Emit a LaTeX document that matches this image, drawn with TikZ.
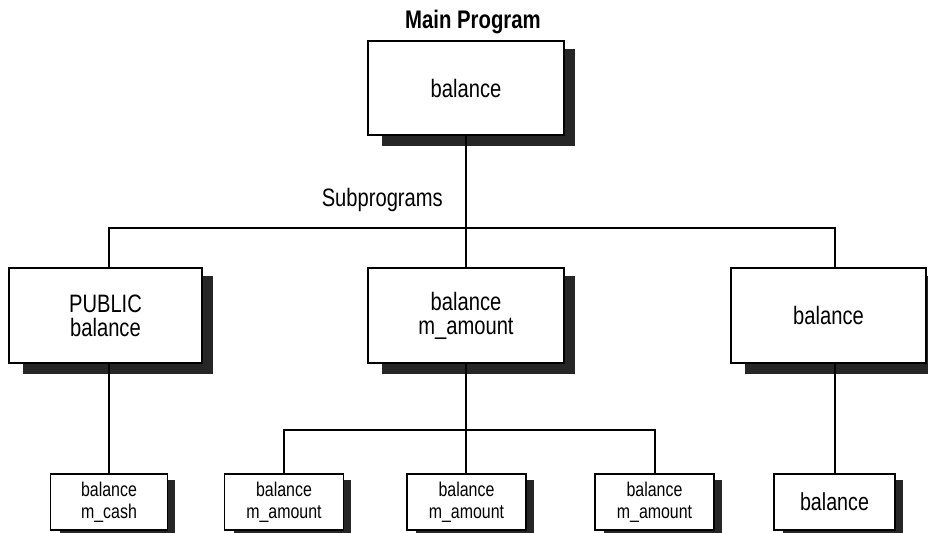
\documentclass[tikz,border=0pt]{standalone}
\usepackage{fontspec}
\setmainfont{Liberation Sans}[FakeStretch=0.8]
\usetikzlibrary{calc,backgrounds}
\begin{document}
\begin{tikzpicture}[x=0.03cm,y=-0.03cm,
  box/.style={draw=black,line width=1pt,fill=white,inner sep=0pt,align=center,
    font=\fontsize{21.5}{20.5}\selectfont},
  sbox/.style={box,font=\fontsize{17}{18.8}\selectfont},
  lbl/.style={inner sep=0pt,font=\fontsize{21.5}{20}\selectfont},
  link/.style={line width=1pt},
  shadowfill/.style={fill=black!85}]
\useasboundingbox (0,0) rectangle (928,532);
\clip (0,0) rectangle (928,532);
% titles
\node[lbl,font=\bfseries\fontsize{21.7}{20}\selectfont,anchor=base] (title) at (473,28) {Main Program};
\node[lbl,anchor=base east] (sub) at (443,206) {Subprograms};
% main box
\node[box,minimum width={196*0.03cm},minimum height={94*0.03cm}] (top) at (466,88) {balance};
% subprogram boxes
\node[box,minimum width={193*0.03cm},minimum height={95*0.03cm}] (lb) at (105.5,315.5) {PUBLIC\\balance};
\node[box,minimum width={196*0.03cm},minimum height={95*0.03cm}] (mb) at (466,315.5) {balance\\m\_amount};
\node[box,minimum width={195*0.03cm},minimum height={95*0.03cm}] (rb) at (828.5,315.5) {balance};
% bottom boxes
\node[sbox,minimum width={117*0.03cm},minimum height={56*0.03cm}] (b1) at (109,502) {balance\\m\_cash};
\node[sbox,minimum width={119*0.03cm},minimum height={56*0.03cm}] (b2) at (284,502) {balance\\m\_amount};
\node[sbox,minimum width={119*0.03cm},minimum height={56*0.03cm}] (b3) at (466.5,502) {balance\\m\_amount};
\node[sbox,minimum width={119*0.03cm},minimum height={56*0.03cm}] (b4) at (654.5,502) {balance\\m\_amount};
\node[box,font=\fontsize{21}{20}\selectfont,minimum width={121*0.03cm},minimum height={56*0.03cm}] (b5) at (834.5,502) {balance};
% junction points
\coordinate (hL) at (109,228);
\coordinate (hR) at (835,228);
\coordinate (bL) at (284,430);
\coordinate (bR) at (655,430);
% connectors
\draw[link] (top.south) -- (mb.north);
\draw[link] (hL |- lb.north) -- (hL) -- (hR) -- (hR |- rb.north);
\draw[link] (b1.north |- lb.south) -- (b1.north);
\draw[link] (mb.south) -- (mb.south |- b3.north);
\draw[link] (b2.north) -- (bL) -- (bR) -- (bR |- b4.north);
\draw[link] (hR |- rb.south) -- (hR |- b5.north);
% shadows
\begin{scope}[on background layer]
  \foreach \n in {top,lb,mb,rb}
    \fill[shadowfill] ($(\n.north west)+(15,9)$) rectangle ($(\n.south east)+(10,10)$);
  \foreach \n in {b1,b2,b3,b4,b5}
    \fill[shadowfill] ($(\n.north west)+(10,7)$) rectangle ($(\n.south east)+(7,7)$);
\end{scope}
\end{tikzpicture}
\end{document}
